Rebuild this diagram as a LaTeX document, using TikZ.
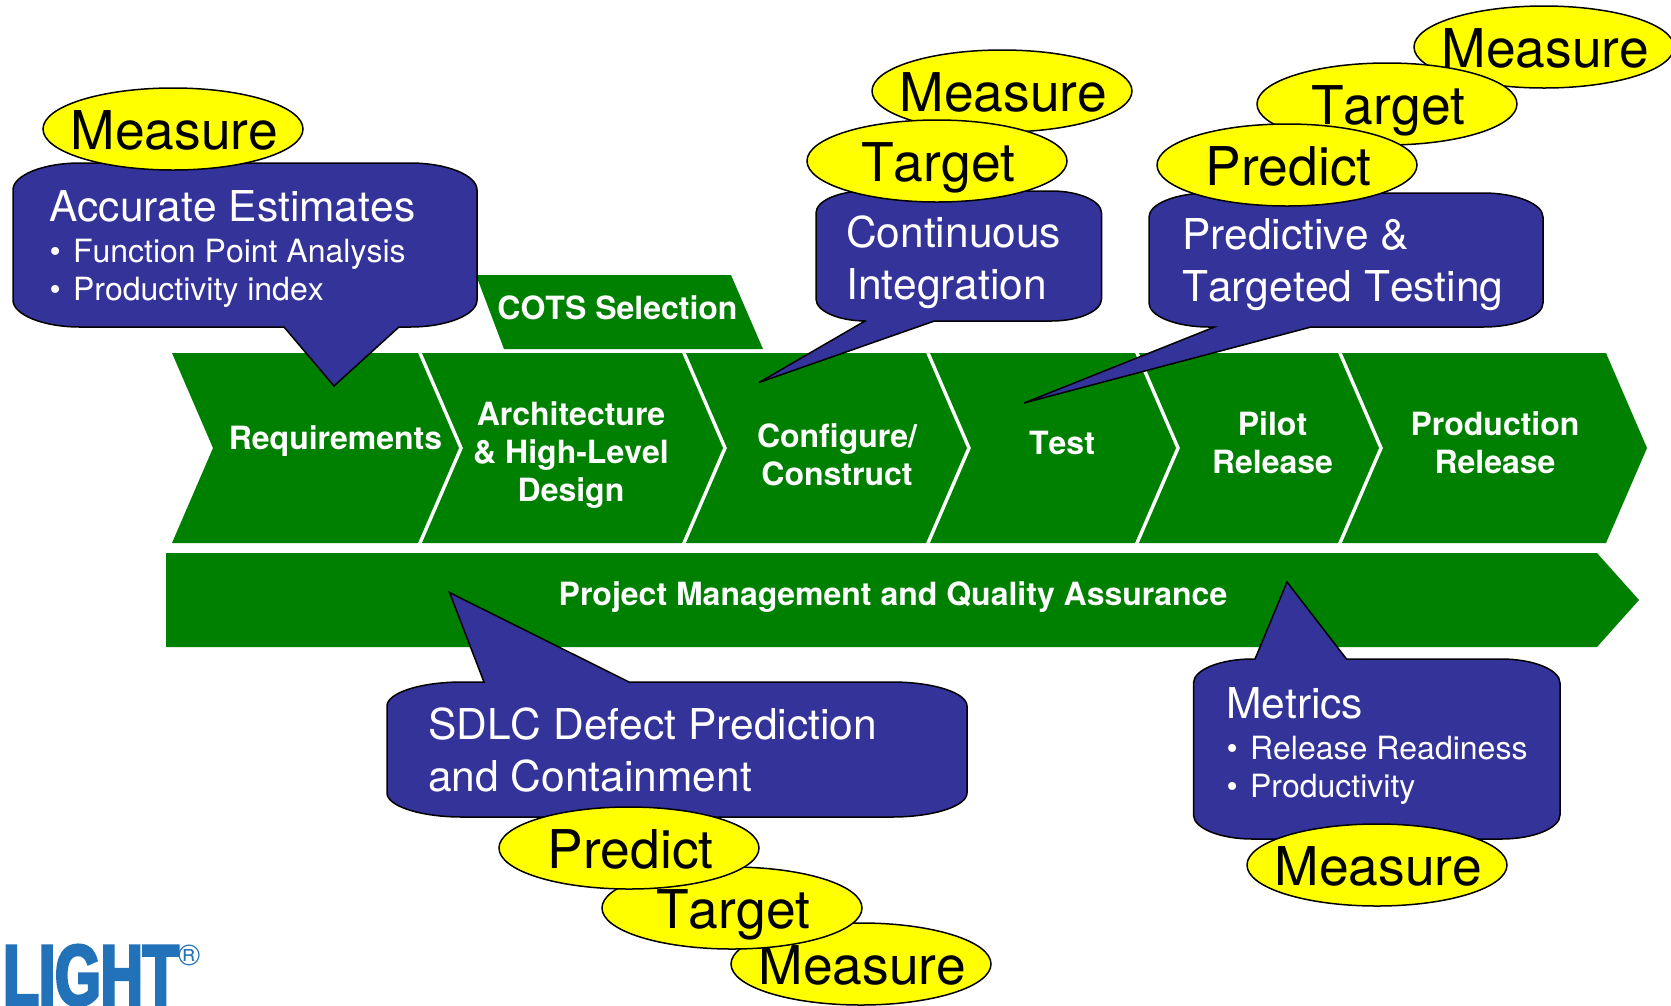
\documentclass[tikz,border=0pt]{standalone}
\usepackage{fontspec}
\setmainfont[Kerning=Off]{TeX Gyre Heros}
\newfontfamily\logofont[FakeBold=3.5,FakeStretch=0.68]{Liberation Sans Bold}
\usetikzlibrary{shapes.geometric}
\definecolor{chevgreen}{HTML}{008000}
\definecolor{bubblue}{HTML}{333399}
\definecolor{ovalyellow}{HTML}{FFFF00}
\definecolor{logoblue}{HTML}{2172B9}
\newcommand{\fsz}[2]{\fontsize{#1}{#2}\selectfont}
% l t r b rx ry  top-pointer bottom-pointer
\newcommand{\bubble}[8]{%
  \draw[bubstyle] ({#1+#5},#2) #7 -- ({#3-#5},#2)
    .. controls ({#3-0.45*#5},#2) and (#3,{#2+0.45*#6}) .. (#3,{#2+#6})
    -- (#3,{#4-#6})
    .. controls (#3,{#4-0.45*#6}) and ({#3-0.45*#5},#4) .. ({#3-#5},#4)
    #8 -- ({#1+#5},#4)
    .. controls ({#1+0.45*#5},#4) and (#1,{#4-0.45*#6}) .. (#1,{#4-#6})
    -- (#1,{#2+#6})
    .. controls (#1,{#2+0.45*#6}) and ({#1+0.45*#5},#2) .. ({#1+#5},#2) -- cycle;}
\tikzset{
  chev/.style={fill=chevgreen,draw=none},
  bubstyle/.style={fill=bubblue,draw=black,line width=1.5pt,line join=miter},
  oval/.style={ellipse,fill=ovalyellow,draw=black,line width=1.5pt,inner sep=0pt,
    minimum width=260pt,minimum height=82pt,text height=40pt,text depth=0pt,text=black,
    font=\fsz{53.4}{60}},
  steplabel/.style={text=white,font=\bfseries\fsz{32}{38}\addfontfeature{Kerning=Off},align=center,inner sep=0pt},
  bubhead/.style={text=white,font=\fsz{42.5}{52},align=left,anchor=base west,inner sep=0pt},
  bubitem/.style={text=white,font=\fsz{32}{37.6},align=left,anchor=base west,inner sep=0pt},
}
\newcommand{\ovtxt}[1]{\makebox[0pt]{\hspace{3pt}#1}}
\begin{document}
\begin{tikzpicture}[x=1pt,y=-1pt]
\useasboundingbox (0,0) rectangle (1671,1005);
\clip (0,0) rectangle (1671,1005);
\fill[white] (0,0) rectangle (1671,1005);
% chevrons
\fill[chev] (172,353) -- (418,353) -- (459,448) -- (418,543) -- (172,543) -- (213,448) -- cycle;
\fill[chev] (422,353) -- (682,353) -- (723,448) -- (682,543) -- (422,543) -- (463,448) -- cycle;
\fill[chev] (686,353) -- (926,353) -- (967,448) -- (926,543) -- (686,543) -- (727,448) -- cycle;
\fill[chev] (930,353) -- (1135,353) -- (1176,448) -- (1135,543) -- (930,543) -- (971,448) -- cycle;
\fill[chev] (1139,353) -- (1338,353) -- (1379,448) -- (1338,543) -- (1139,543) -- (1180,448) -- cycle;
\fill[chev] (1342,353) -- (1606,353) -- (1647,448) -- (1606,543) -- (1342,543) -- (1383,448) -- cycle;
\fill[chev] (166,553) -- (1597,553) -- (1639,600) -- (1597,647) -- (166,647) -- cycle;
\fill[chev] (476,275) -- (731,275) -- (763,349) -- (504,349) -- cycle;
\node[steplabel] (s1) at (335.5,441) {Requirements};
\node[steplabel] (s2) at (571,455.5) {Architecture\\\& High-Level\\Design};
\node[steplabel] (s3) at (837,455) {Configure/\\Construct};
\node[steplabel] (s4) at (1062,442.5) {Test};
\node[steplabel] (s5) at (1272.5,442.5) {Pilot\\Release};
\node[steplabel] (s6) at (1495,442.5) {Production\\Release};
\node[steplabel] (pm) at (893,597) {Project Management and Quality Assurance};
\node[steplabel] (cots) at (617.5,308) {COTS Selection};
% callouts
\bubble{13}{163}{477}{327}{67}{27}{}{-- (399,327) -- (334,386) -- (284,327)}
\bubble{816}{191}{1101.5}{321}{50}{22}{}{-- (934.5,321) -- (759,382.5) -- (865,321)}
\bubble{1149}{193}{1543}{327}{60}{24}{}{-- (1311,327) -- (1024,403) -- (1214.5,327)}
\bubble{387}{682}{967}{817}{75}{24}{-- (484,682) -- (449.5,592.5) -- (629,682)}{}
\bubble{1193.5}{659}{1560}{839}{59}{24}{-- (1255,659) -- (1287,582) -- (1346.5,659)}{}
\node[bubhead] (t1) at (49,221) {Accurate Estimates};
\node[bubitem] (t1a) at (49.5,262) {•\hspace{0.38em}Function Point Analysis};
\node[bubitem] (t1b) at (49.5,300.5) {•\hspace{0.38em}Productivity index};
\node[bubhead] (t2) at (846,299) {Continuous\\Integration};
\node[bubhead] (t3) at (1182,301.5) {Predictive \&\\Targeted Testing};
\node[bubhead] (t4) at (428,791) {SDLC Defect Prediction\\and Containment};
\node[bubhead] (t5) at (1226,718) {Metrics};
\node[bubitem] (t5a) at (1226.5,759.5) {•\hspace{0.38em}Release Readiness};
\node[bubitem] (t5b) at (1226.5,797.5) {•\hspace{0.38em}Productivity};
% ovals
\node[oval] (o1) at (173,129) {\ovtxt{Measure}};
\node[oval] (o2) at (1002,91) {\ovtxt{Measure}};
\node[oval] (o3) at (937,161) {\ovtxt{Target}};
\node[oval] (o4) at (1544,47) {\ovtxt{Measure}};
\node[oval] (o5) at (1387,104) {\ovtxt{Target}};
\node[oval] (o6) at (1287,165) {\ovtxt{Predict}};
\node[oval] (o7) at (861,964) {\ovtxt{Measure}};
\node[oval] (o8) at (732,908) {\ovtxt{Target}};
\node[oval] (o9) at (629,848) {\ovtxt{Predict}};
\node[oval] (o10) at (1377,865) {\ovtxt{Measure}};
% logo
\node[text=logoblue,inner sep=0pt,anchor=base west,font=\logofont\fsz{86}{86}] (logo) at (3,1005) {LIGHT};
\node[text=logoblue,inner sep=0pt,anchor=base west,font=\fsz{30}{30}] (reg) at (178,965) {®};
\end{tikzpicture}
\end{document}
